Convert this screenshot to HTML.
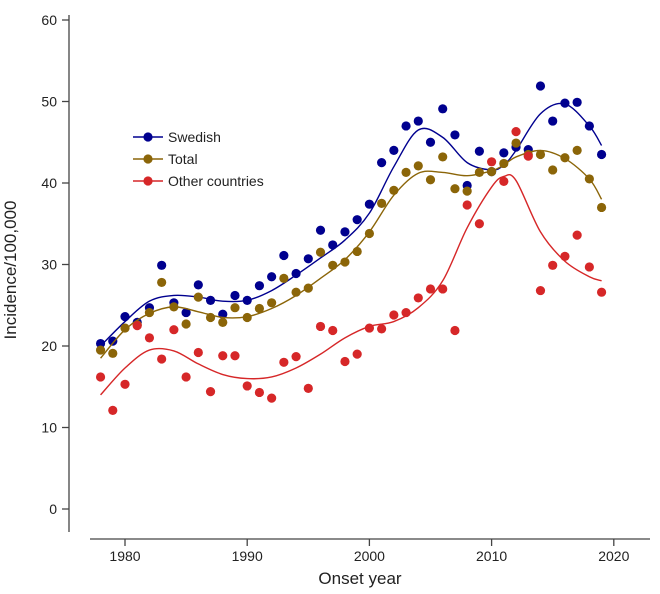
<!DOCTYPE html>
<html><head><meta charset="utf-8"><style>
body{margin:0;background:#fff;}
svg text{font-family:"Liberation Sans",Arial,sans-serif;fill:#222;}
</style></head><body>
<svg id="chart" width="660" height="589" viewBox="0 0 660 589" xmlns="http://www.w3.org/2000/svg"></svg>
<script>
const years=[];for(let y=1978;y<=2019;y++)years.push(y);
const swedish=[20.3,20.6,23.6,22.9,24.7,29.9,25.3,24.1,27.5,25.6,23.9,26.2,25.6,27.4,28.5,31.1,28.9,30.7,34.2,32.4,34.0,35.5,37.4,42.5,44.0,47.0,47.6,45.0,49.1,45.9,39.7,43.9,41.4,43.7,44.4,44.1,51.9,47.6,49.8,49.9,47.0,43.5];
const total=[19.5,19.1,22.2,22.6,24.1,27.8,24.8,22.7,26.0,23.5,22.9,24.7,23.5,24.6,25.3,28.3,26.6,27.1,31.5,29.9,30.3,31.6,33.8,37.5,39.1,41.3,42.1,40.4,43.2,39.3,39.0,41.3,41.4,42.4,44.9,43.5,43.5,41.6,43.1,44.0,40.5,37.0];
const other=[16.2,12.1,15.3,22.5,21.0,18.4,22.0,16.2,19.2,14.4,18.8,18.8,15.1,14.3,13.6,18.0,18.7,14.8,22.4,21.9,18.1,19.0,22.2,22.1,23.8,24.1,25.9,27.0,27.0,21.9,37.3,35.0,42.6,40.2,46.3,43.3,26.8,29.9,31.0,33.6,29.7,26.6];
const fitYears=[1978,1980,1982,1984,1986,1988,1990,1992,1994,1996,1998,2000,2002,2004,2006,2008,2010,2011,2012,2014,2016,2018,2019];
const swedishFit=[20,23,25.5,26.2,26,25.5,25.6,26.8,28.7,30.8,33,36.3,42,46.5,45.6,42.5,41.6,42.2,44,48.5,49.7,47,44.6];
const totalFit=[18.5,22,24,24.8,24.2,23.5,23.6,24.6,26.2,28.3,30.6,34,38.5,41.2,41.3,40.9,41.5,42.2,43.2,44,43,40.5,38];
const otherFit=[14,17.3,19.5,19.4,17.8,16.5,16.0,16.2,17.3,19,21,22.4,23,24.7,28,34.5,39.5,40.8,40.3,34,30.4,28.5,28];
const yTicks=[0,10,20,30,40,50,60];
const xTicks=[1980,1990,2000,2010,2020];

const NS="http://www.w3.org/2000/svg";
const svg=document.getElementById('chart');
const X=v=>125+(v-1980)*12.22;
const Y=v=>509-v*8.15;
function el(t,a,p){const e=document.createElementNS(NS,t);for(const k in a)e.setAttribute(k,a[k]);(p||svg).appendChild(e);return e;}

// axes
const ax=el('line',{x1:69,y1:15,x2:69,y2:532,stroke:'#444','stroke-width':1.3});

const bx=el('line',{x1:90,y1:539,x2:650,y2:539,stroke:'#444','stroke-width':1.3});

yTicks.forEach(t=>{
  el('line',{x1:62,y1:Y(t),x2:69,y2:Y(t),stroke:'#444','stroke-width':1.3});
  const tx=el('text',{x:57,y:Y(t)+5,'text-anchor':'end','font-size':14});tx.textContent=t;
  
});
xTicks.forEach(t=>{
  el('line',{x1:X(t),y1:539,x2:X(t),y2:546,stroke:'#444','stroke-width':1.3});
  const tx=el('text',{x:X(t),y:561,'text-anchor':'middle','font-size':14});tx.textContent=t;
  
});
const yt=el('text',{x:0,y:0,'text-anchor':'middle','font-size':17,transform:'translate(16,270) rotate(-90)'});yt.textContent='Incidence/100,000';

const xt=el('text',{x:360,y:584,'text-anchor':'middle','font-size':17});xt.textContent='Onset year';


function smooth(xs,ys){
  const p=xs.map((x,i)=>[X(x),Y(ys[i])]);let d='M'+p[0][0]+','+p[0][1];
  for(let i=0;i<p.length-1;i++){
    const p0=p[i-1]||p[i],p1=p[i],p2=p[i+1],p3=p[i+2]||p2;
    const c1=[p1[0]+(p2[0]-p0[0])/6,p1[1]+(p2[1]-p0[1])/6];
    const c2=[p2[0]-(p3[0]-p1[0])/6,p2[1]-(p3[1]-p1[1])/6];
    d+=`C${c1[0]},${c1[1]} ${c2[0]},${c2[1]} ${p2[0]},${p2[1]}`;
  }return d;
}
const series=[['swedish',swedish,swedishFit,'#00008f'],['total',total,totalFit,'#8b6508'],['other-countries',other,otherFit,'#d62728']];
series.forEach(([n,vals,fit,c])=>{
  const g=el('g',{});
  
  vals.forEach((v,i)=>{
    const pt=el('circle',{cx:X(years[i]),cy:Y(v),r:4.6,fill:c},g);
    
  });
  const ln=el('path',{d:smooth(fitYears,fit),fill:'none',stroke:c,'stroke-width':1.4},g);
  
});
// legend
const lg=el('g',{});
[['Swedish','#00008f',137],['Total','#8b6508',159],['Other countries','#d62728',181]].forEach(([t,c,y])=>{
  const g=el('g',{},lg);
  el('line',{x1:133,y1:y,x2:163,y2:y,stroke:c,'stroke-width':1.4},g);
  el('circle',{cx:148,cy:y,r:4.6,fill:c},g);
  const tx=el('text',{x:168,y:y+5,'font-size':14},g);tx.textContent=t;
});
</script>
</body></html>
